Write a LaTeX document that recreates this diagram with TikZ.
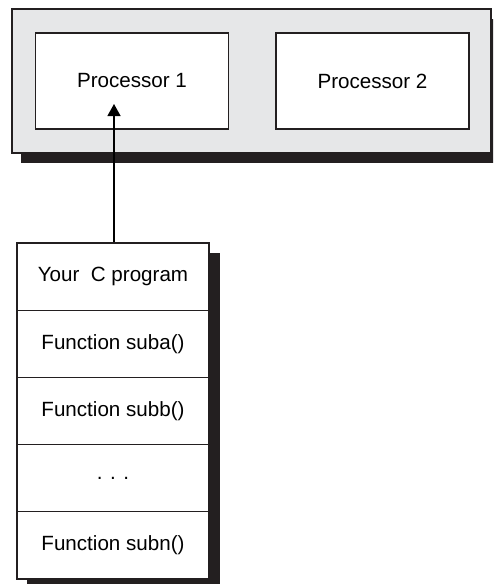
\documentclass[tikz,border=0pt]{standalone}
\usepackage{fontspec}
\setmainfont{Liberation Sans}
\usetikzlibrary{arrows.meta}
\definecolor{panel}{HTML}{E6E7E8}
\definecolor{shade}{HTML}{231F20}
\begin{document}
\begin{tikzpicture}[x=1pt,y=-1pt,
  outline/.style={draw=shade, line width=1.3pt, inner sep=0pt},
  procbox/.style={outline, fill=white, minimum width=193pt, minimum height=96pt, font=\fontsize{20.6}{24}\selectfont},
  rowbox/.style={outline, fill=white, minimum width=192pt, minimum height=67.2pt, font=\fontsize{20.6}{24}\selectfont},
  dropshadow/.style={fill=shade}]
\useasboundingbox (0,0) rectangle (493,584);
\clip (0,0) rectangle (493,584);
% system panel
\fill[dropshadow] (21,19) rectangle (500,163);
\node[outline, fill=panel, minimum width=479pt, minimum height=144pt] (sys) at (251.5,81) {};
\node[procbox] (p1) at (132,81) {Processor 1};
\node[procbox] (p2) at (372.5,81) {Processor 2};
% program stack
\fill[dropshadow] (27,253) rectangle (220,594);
\node[rowbox] (r1) at (113,276.6) {Your\ \ C program};
\node[rowbox] (r2) at (113,343.8) {Function suba()};
\node[rowbox] (r3) at (113,411.0) {Function subb()};
\node[rowbox] (r4) at (113,478.2) {. . .};
\node[rowbox] (r5) at (113,545.4) {Function subn()};
% arrow
\coordinate (tip) at (114,104);
\draw[shade, line width=1.3pt, -{Triangle[width=13pt,length=12pt]}] (tip |- r1.north) -- (tip);
\end{tikzpicture}
\end{document}
